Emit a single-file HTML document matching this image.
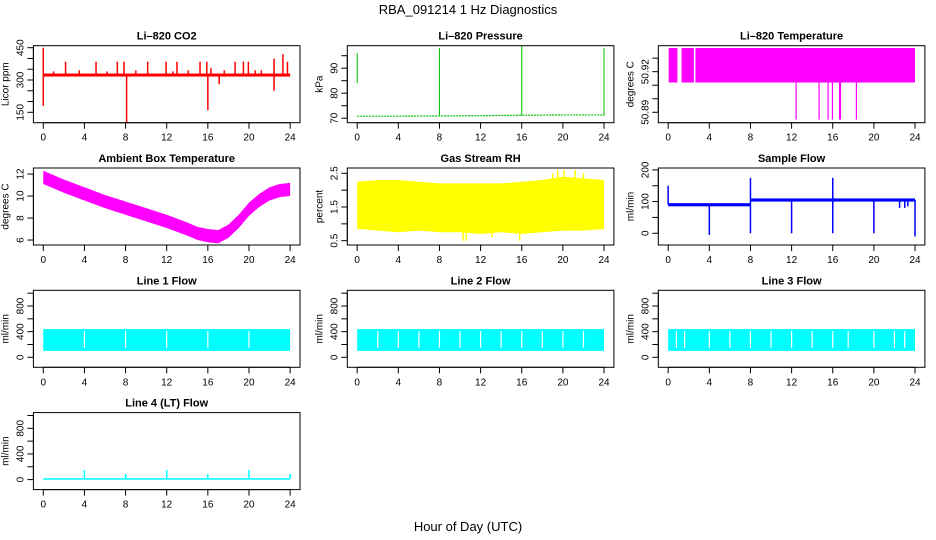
<!DOCTYPE html>
<html><head><meta charset="utf-8">
<style>
html,body{margin:0;padding:0;background:#fff;}
svg{display:block;font-family:"Liberation Sans",Arial,sans-serif;}
</style></head>
<body>
<svg id="chart" width="936" height="540" viewBox="0 0 936 540">
<text x="468" y="14" text-anchor="middle" font-size="13">RBA_091214  1 Hz Diagnostics</text>
<text x="468" y="531" text-anchor="middle" font-size="13">Hour of Day (UTC)</text>
</svg>
<script>
// ---- data ----
const xTicks = [0,4,8,12,16,20,24];
const co2Base = [316, 330];
const co2SpikeT = [0,0,2.17,5.13,7.2,7.85,8.1,10.15,11.94,13.0,15.24,15.9,16.0,16.3,17.1,18.65,19.46,19.94,21.2,22.44,22.44,23.3,23.74,1.0,3.5,6.2,9.0,12.6,14.1,17.6,20.6];
const co2SpikeV = [450,180,385,385,385,385,100,385,385,385,385,385,160,355,280,385,385,385,345,400,250,420,385,340,345,340,345,340,345,345,345];
const presBaseT = [0,4,8,12,16,20,24];
const presBaseV = [70.8,70.8,70.9,71.0,71.2,71.3,71.3];
const presSpikeT = [0,8,16,24];
const presSpikeLo = [84,71,71,71];
const presSpikeHi = [96,98,99,98];
const tempBandT0 = [0.05,1.3,2.65];
const tempBandT1 = [0.9,2.5,24];
const tempBand = [50.912,50.9375];
const tempSpikeT = [12.44,14.67,15.55,15.97,16.66,16.75,18.3];
const tempSpikeV = [50.8846,50.8846,50.8846,50.8846,50.8846,50.8846,50.8846];
const ambT = [0,2,4,6,8,10,12,14,15,16,17,18,19,20,21,22,23,24];
const ambMid = [11.7,10.9,10.2,9.5,8.9,8.3,7.7,7.0,6.6,6.4,6.3,6.8,7.7,8.8,9.6,10.2,10.5,10.6];
const ambHalf = 0.6;
const rhT = [0,2,4,6,8,10,12,14,16,18,20,22,24];
const rhLo = [0.85,0.8,0.75,0.8,0.75,0.75,0.7,0.75,0.7,0.75,0.8,0.8,0.85];
const rhHi = [2.25,2.3,2.3,2.25,2.2,2.2,2.2,2.2,2.25,2.3,2.4,2.35,2.3];
const rhSpikeT = [10.3,10.6,13.1,15.8,19.0,19.5,20.1,21.2,22.0];
const rhSpikeV = [0.5,0.5,0.6,0.5,2.5,2.6,2.6,2.6,2.5];
const sfSegT = [0,8,24];
const sfSegV = [90,105];
const sfSpikeT = [0,4,8,8,12,16,16,20,24,22.5,23.0,23.3];
const sfSpikeV = [150,-5,175,0,0,175,0,0,-10,80,80,85];
const flowLo = 100;
const flowHi = 440;
const line1Gaps = [4,8,12,16,20];
const line2Gaps = [2,4,6,8,10,12,14,16,18,20,22];
const line3Gaps = [0.8,1.6,4,6,8,10,12,14,16,17.5,20,22,23];
const line4Base = 10;
const line4SpikeT = [4,8,12,16,20,24];
const line4SpikeV = [150,90,150,85,150,90];

// ---- layout ----
const NS = "http://www.w3.org/2000/svg";
const svg = document.getElementById('chart');
const colL = [33.4, 347.3, 658.3], PW = 266.6, rowT = [45.7, 168, 290.3, 412.6], PH = 77;
function mk(tag, attrs, parent){const e=document.createElementNS(NS,tag);for(const k in attrs)e.setAttribute(k,attrs[k]);(parent||svg).appendChild(e);return e;}
function panel(ci, ri, name, title, ylab, yTop, yBot, ticks, labels){
  const L=colL[ci], T=rowT[ri];
  const g=mk('g',{});
  
  
  const sx=t=>L+PW*(t+0.96)/25.92;
  const sy=v=>T+PH*(yTop-v)/(yTop-yBot);
  const tt=mk('text',{x:L+PW/2,y:T-6,'text-anchor':'middle','font-size':11,'font-weight':'bold'},g);
  tt.textContent=title;
  
  
  const yl=mk('text',{transform:`translate(${L-25},${T+PH/2}) rotate(-90)`,'text-anchor':'middle','font-size':10},g);
  yl.textContent=ylab;
  
  
  const dg=mk('g',{},g);
  const ax=mk('g',{stroke:'#000','stroke-width':1,fill:'none'},g);
  mk('rect',{x:L,y:T,width:PW,height:PH},ax);
  mk('line',{x1:sx(0),x2:sx(24),y1:T+PH,y2:T+PH},ax);
  xTicks.forEach(t=>{
    mk('line',{x1:sx(t),x2:sx(t),y1:T+PH,y2:T+PH+6},ax);
    const tx=mk('text',{x:sx(t),y:T+PH+18,'text-anchor':'middle','font-size':10,stroke:'none',fill:'#000'},g);
    tx.textContent=t;
    
    
  });
  ticks.forEach(v=>{
    mk('line',{x1:L-6,x2:L,y1:sy(v),y2:sy(v)},ax);
  });
  mk('line',{x1:L,x2:L,y1:sy(ticks[0]),y2:sy(ticks[ticks.length-1])},ax);
  labels.forEach(v=>{
    const tx=mk('text',{transform:`translate(${L-10},${sy(v)}) rotate(-90)`,'text-anchor':'middle','font-size':10},g);
    tx.textContent=v;
    
    
  });
  return {sx,sy,g:dg};
}
function rect(p,t0,t1,lo,hi,col,nm){const r=mk('rect',{x:p.sx(t0),y:p.sy(hi),width:Math.max(0.8,p.sx(t1)-p.sx(t0)),height:Math.max(1,p.sy(lo)-p.sy(hi)),fill:col},p.g);return r;}
function vline(p,t,a,b,col,w,nm){const l=mk('line',{x1:p.sx(t),x2:p.sx(t),y1:p.sy(a),y2:p.sy(b),stroke:col,'stroke-width':w||1.5},p.g);return l;}

// CO2
let p=panel(0,0,'co2-panel','Li\u2013820 CO2','Licor ppm',459.3,101.7,[150,200,250,300,350,400,450],[150,300,450]);
rect(p,0,24,co2Base[0],co2Base[1],'#f00','co2-baseline');
co2SpikeT.forEach((t,i)=>vline(p,t,323,co2SpikeV[i],'#f00',1.5,'co2-spike'));

// Pressure
p=panel(1,0,'pressure-panel','Li\u2013820 Pressure','kPa',99,68.2,[70,75,80,85,90,95],[70,80,90]);
const pl=mk('polyline',{points:presBaseT.map((t,i)=>p.sx(t)+','+p.sy(presBaseV[i])).join(' '),fill:'none',stroke:'#00c000','stroke-width':1.2,'stroke-dasharray':'2 1'},p.g);


presSpikeT.forEach((t,i)=>vline(p,t,presSpikeLo[i],presSpikeHi[i],'#00c000',1,'pressure-spike'));

// Li-820 temperature
p=panel(2,0,'li820-temp-panel','Li\u2013820 Temperature','degrees C',50.9392,50.8823,[50.89,50.90,50.91,50.92,50.93],[50.89,50.92]);
tempBandT0.forEach((t,i)=>rect(p,t,tempBandT1[i],tempBand[0],tempBand[1],'#f0f','temp-band'));
tempSpikeT.forEach((t,i)=>vline(p,t,tempBand[0],tempSpikeV[i],'#f0f',1.2,'temp-spike'));

// Ambient box temperature
p=panel(0,1,'ambient-temp-panel','Ambient Box Temperature','degrees C',12.55,5.55,[6,8,10,12],[6,8,10,12]);
const amb=mk('polygon',{points:ambT.map((t,i)=>p.sx(t)+','+p.sy(ambMid[i]+ambHalf)).concat(ambT.slice().reverse().map((t,j)=>{const i=ambT.length-1-j;return p.sx(t)+','+p.sy(ambMid[i]-ambHalf);})).join(' '),fill:'#f0f'},p.g);



// Gas stream RH
p=panel(1,1,'rh-panel','Gas Stream RH','percent',2.657,0.372,[0.5,1,1.5,2,2.5],[0.5,1.5,2.5]);
const rh=mk('polygon',{points:rhT.map((t,i)=>p.sx(t)+','+p.sy(rhHi[i])).concat(rhT.slice().reverse().map((t,j)=>{const i=rhT.length-1-j;return p.sx(t)+','+p.sy(rhLo[i]);})).join(' '),fill:'#ff0'},p.g);


rhSpikeT.forEach((t,i)=>vline(p,t,1.5,rhSpikeV[i],'#ff0',1.5,'rh-spike'));

// Sample flow
p=panel(2,1,'sample-flow-panel','Sample Flow','ml/min',206,-37,[0,50,100,150,200],[0,100,200]);
sfSegV.forEach((v,i)=>rect(p,sfSegT[i],sfSegT[i+1],v-5,v+5,'#00f','sample-flow-segment'));
sfSpikeT.forEach((t,i)=>vline(p,t,sfSegV[t<8?0:1],sfSpikeV[i],'#00f',1.5,'sample-flow-spike'));

// Line flows
function flowPanel(ci,ri,name,title,gaps){
  const q=panel(ci,ri,name,title,'ml/min',1045,-156,[0,200,400,600,800,1000],[0,400,800]);
  rect(q,0,24,flowLo,flowHi,'#0ff',name+'-band');
  gaps.forEach(t=>{const r=mk('rect',{x:q.sx(t)-0.6,y:q.sy(flowHi)+2,width:1.2,height:q.sy(flowLo)-q.sy(flowHi)-5,fill:'#fff'},q.g);});
  return q;
}
flowPanel(0,2,'line1-flow-panel','Line 1 Flow',line1Gaps);
flowPanel(1,2,'line2-flow-panel','Line 2 Flow',line2Gaps);
flowPanel(2,2,'line3-flow-panel','Line 3 Flow',line3Gaps);

// Line 4
p=panel(0,3,'line4-flow-panel','Line 4 (LT) Flow','ml/min',1045,-156,[0,200,400,600,800,1000],[0,400,800]);
rect(p,0,24,line4Base-12,line4Base+12,'#0ff','line4-baseline');
line4SpikeT.forEach((t,i)=>vline(p,t,line4Base,line4SpikeV[i],'#0ff',1.5,'line4-spike'));
</script>
</body></html>
